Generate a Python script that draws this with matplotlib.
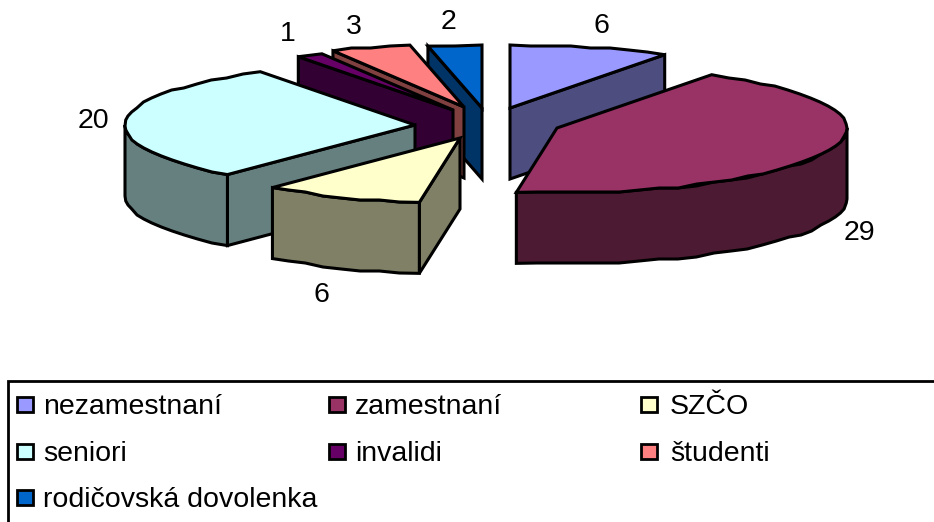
import numpy as np
import matplotlib
matplotlib.use("Agg")
import matplotlib.pyplot as plt
from matplotlib.patches import Polygon, Rectangle

plt.rcParams['font.family'] = ['Liberation Sans', 'DejaVu Sans']

# data
categories = ["nezamestnaní", "zamestnaní", "SZČO", "seniori", "invalidi", "študenti", "rodičovská dovolenka"]
values = [6, 29, 6, 20, 1, 3, 2]

# look
top_colors = ["#9999FF", "#993366", "#FFFFCC", "#CCFFFF", "#660066", "#FF8080", "#0066CC"]
side_colors = ["#4D4D80", "#4D1A33", "#808066", "#668080", "#330033", "#804040", "#003366"]
apex_x = [510, 557, 460, 415, 453, 464, 482]
apex_y = [108, 128, 138, 125, 110, 107, 108]
label_x = [601, 859, 321, 93, 288, 354, 448]
label_y = [26, 233, 295, 121, 34, 27, 22]
draw_order = [6, 5, 4, 0, 1, 3, 2]

RX = 290
RY_BACK = 63
RY_FRONT = 65
DEPTH = 71

fig = plt.figure(figsize=(9.34, 5.22), dpi=100)
ax = fig.add_axes([0, 0, 1, 1])
ax.set_xlim(0, 934)
ax.set_ylim(522, 0)
ax.axis('off')

def rim_point(cx, cy, deg):
    t = np.radians(deg)
    c = np.cos(t)
    ry = RY_BACK if c > 0 else RY_FRONT
    return np.array([cx + RX * np.sin(t), cy - ry * c])

def rim(cx, cy, a, b):
    # the edge of the pie is a bit rough in the original, snap inner points to a small grid
    n = max(int(abs(b - a) / 4), 1)
    pts = np.array([rim_point(cx, cy, d) for d in np.linspace(a, b, n + 1)])
    pts[1:-1, 1] = np.round(pts[1:-1, 1] / 2) * 2
    return pts

def add_poly(pts, color):
    ax.add_patch(Polygon(pts, closed=True, facecolor=color, edgecolor='black', lw=2.2, joinstyle='miter'))

edges = np.cumsum([0] + values) / sum(values) * 360

for i in draw_order:
    a, b = edges[i], edges[i + 1]
    cx, cy = apex_x[i], apex_y[i]
    down = np.array([0, DEPTH])
    apex = np.array([cx, cy])

    # cut walls that face the viewer
    if np.sin(np.radians(a)) < -1e-6:
        p = rim_point(cx, cy, a)
        add_poly([apex, p, p + down, apex + down], side_colors[i])
    if np.sin(np.radians(b)) > 1e-6:
        p = rim_point(cx, cy, b)
        add_poly([apex, p, p + down, apex + down], side_colors[i])

    # outer wall, front half only
    fa, fb = max(a, 90), min(b, 270)
    if fa < fb:
        r = rim(cx, cy, fa, fb)
        add_poly(np.vstack([r, (r + down)[::-1]]), side_colors[i])

    add_poly(np.vstack([apex, rim(cx, cy, a, b)]), top_colors[i])

for i in range(len(values)):
    ax.text(label_x[i], label_y[i], str(values[i]), fontsize=20.5, ha='center', va='center', color='black')

# legend box
ax.add_patch(Rectangle((8, 381), 940, 160, facecolor='white', edgecolor='black', lw=2))
col_x = [17, 329, 641]
text_x = [43, 355, 670]
row_y = [405, 452, 498]
for i, name in enumerate(categories):
    y = row_y[i // 3]
    ax.add_patch(Rectangle((col_x[i % 3], y - 8), 16, 15, facecolor=top_colors[i], edgecolor='black', lw=2))
    ax.text(text_x[i % 3], y + 2, name, fontsize=20.5, ha='left', va='center', color='black')

fig.savefig("out.png", dpi=100)
